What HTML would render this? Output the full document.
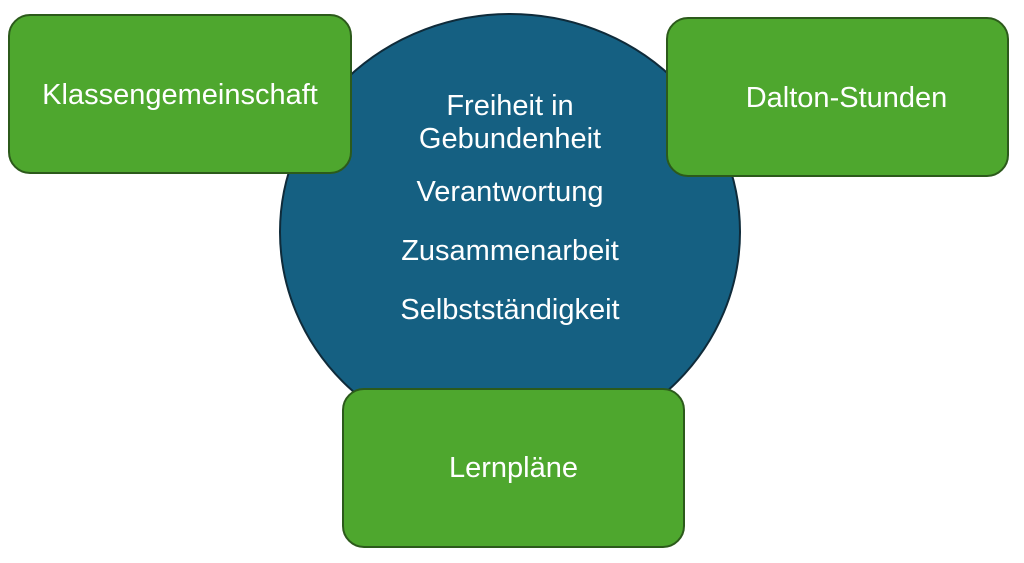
<!DOCTYPE html>
<html><head><style>
body{margin:0;width:1024px;height:563px;background:#fff;overflow:hidden;position:relative;font-family:"Liberation Sans",sans-serif}
.b{position:absolute;background:#4ea72e;border:2px solid #2c5a1b;border-radius:22px;box-sizing:border-box;color:#fff;font-size:29px;display:flex;align-items:center;justify-content:center}
.t{position:absolute;color:#fff;font-size:29px;text-align:center;width:340px;left:340px;line-height:33px}
</style></head><body>
<svg width="1024" height="563" style="position:absolute;left:0;top:0"><ellipse cx="510" cy="232" rx="230" ry="218" fill="#156082" stroke="#0f2b3a" stroke-width="2"/></svg>
<div class="b" style="left:8px;top:14px;width:344px;height:160px;padding-top:2px">Klassengemeinschaft</div>
<div class="b" style="left:666px;top:17px;width:343px;height:160px;padding-left:18px;padding-top:2px">Dalton-Stunden</div>
<div class="b" style="left:342px;top:388px;width:343px;height:160px">Lernpläne</div>
<div class="t" style="top:90px">Freiheit in<br>Gebundenheit</div>
<div class="t" style="top:176px">Verantwortung</div>
<div class="t" style="top:235px">Zusammenarbeit</div>
<div class="t" style="top:294px">Selbstständigkeit</div>
</body></html>
